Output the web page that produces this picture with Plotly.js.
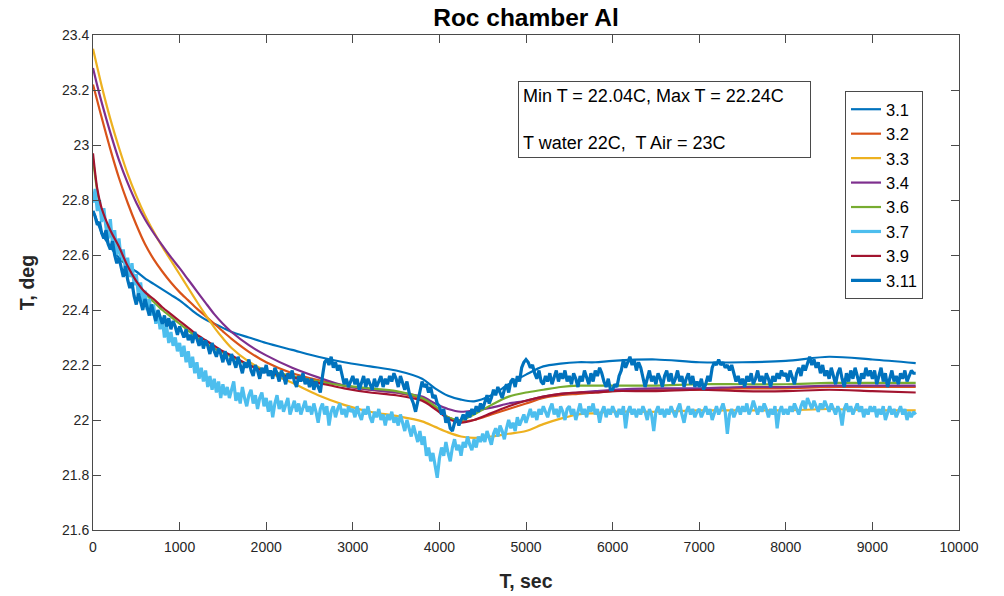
<!DOCTYPE html>
<html>
<head>
<meta charset="utf-8">
<script src="https://cdn.plot.ly/plotly-3.0.1.min.js"></script>
<style>
  html, body { margin: 0; padding: 0; background: #ffffff; }
  #chart { width: 1004px; height: 596px; }
</style>
</head>
<body>
<div id="chart"></div>
<script>
// Sensor labels (legend order)
const sensorNames = ['3.1', '3.2', '3.3', '3.4', '3.6', '3.7', '3.9', '3.11'];

// Smooth sensors: sample times, sec
const tSmooth = [0, 50, 100, 200, 300, 400, 500, 600, 700, 800, 900, 1000, 1100, 1200, 1300,
  1400, 1500, 1600, 1800, 2000, 2300, 2600, 2900, 3200, 3500, 3800, 3950, 4100, 4250, 4400,
  4600, 4800, 5000, 5200, 5400, 5600, 5800, 6000, 6500, 7000, 7500, 8000, 8500, 9000, 9500];

const s31 = [22.76, 22.72, 22.68, 22.63, 22.59, 22.56, 22.54, 22.515, 22.495, 22.475, 22.455,
  22.435, 22.41, 22.385, 22.365, 22.35, 22.335, 22.32, 22.30, 22.28,
  22.255, 22.23, 22.21, 22.195, 22.18, 22.15, 22.115, 22.088, 22.074, 22.068,
  22.09, 22.13, 22.165, 22.195, 22.205, 22.21, 22.21, 22.215, 22.22, 22.21, 22.21,
  22.215, 22.23, 22.22, 22.207];
const s32 = [23.22, 23.16, 23.10, 22.985, 22.88, 22.79, 22.71, 22.64, 22.585, 22.54, 22.50,
  22.465, 22.435, 22.405, 22.378, 22.35, 22.322, 22.295, 22.248, 22.21,
  22.17, 22.145, 22.125, 22.11, 22.10, 22.075, 22.045, 22.01, 21.995, 22.0,
  22.02, 22.04, 22.06, 22.08, 22.09, 22.095, 22.10, 22.105, 22.11, 22.11, 22.115,
  22.115, 22.12, 22.12, 22.12];
const s33 = [23.35, 23.282, 23.215, 23.095, 22.99, 22.895, 22.815, 22.745, 22.685, 22.63, 22.58,
  22.53, 22.48, 22.43, 22.382, 22.337, 22.297, 22.262, 22.212, 22.177,
  22.135, 22.09, 22.055, 22.03, 22.015, 21.995, 21.975, 21.955, 21.94, 21.935,
  21.94, 21.95, 21.96, 21.985, 22.005, 22.02, 22.025, 22.03, 22.03, 22.035, 22.035,
  22.035, 22.04, 22.035, 22.035];
const s34 = [23.28, 23.215, 23.155, 23.045, 22.945, 22.862, 22.79, 22.73, 22.68, 22.635, 22.592,
  22.552, 22.51, 22.468, 22.426, 22.385, 22.35, 22.32, 22.272, 22.235,
  22.19, 22.155, 22.125, 22.11, 22.10, 22.085, 22.06, 22.04, 22.03, 22.035,
  22.045, 22.06, 22.07, 22.085, 22.095, 22.10, 22.105, 22.11, 22.115, 22.115, 22.12,
  22.12, 22.125, 22.125, 22.125];
const s36 = [22.95, 22.83, 22.76, 22.675, 22.61, 22.55, 22.50, 22.46, 22.43, 22.40, 22.375,
  22.35, 22.325, 22.30, 22.28, 22.26, 22.245, 22.23, 22.20, 22.18,
  22.16, 22.14, 22.125, 22.115, 22.105, 22.08, 22.05, 22.01, 22.0, 22.02,
  22.055, 22.085, 22.10, 22.11, 22.12, 22.125, 22.125, 22.125, 22.125, 22.13, 22.13,
  22.13, 22.135, 22.135, 22.135];
const s39 = [22.97, 22.84, 22.77, 22.69, 22.63, 22.56, 22.505, 22.465, 22.44, 22.41, 22.385,
  22.36, 22.335, 22.31, 22.29, 22.27, 22.25, 22.235, 22.20, 22.175,
  22.155, 22.135, 22.115, 22.10, 22.09, 22.07, 22.04, 22.005, 21.99, 22.0,
  22.025, 22.05, 22.07, 22.085, 22.095, 22.10, 22.10, 22.105, 22.105, 22.11, 22.105,
  22.105, 22.11, 22.105, 22.10];

// Noisy sensors: one reading every 25 sec, from 0 to 9500 sec
const noisyStep = 25;
const s37 = [
  22.79, 22.84, 22.76, 22.80, 22.72, 22.77, 22.70, 22.66, 22.73, 22.64, 22.69, 22.60, 22.66, 22.58, 22.62, 22.54, 22.59, 22.52, 22.57, 22.49,
  22.53, 22.45, 22.50, 22.43, 22.47, 22.40, 22.44, 22.38, 22.42, 22.35, 22.39, 22.33, 22.37, 22.30, 22.34, 22.28, 22.32, 22.27, 22.30, 22.25,
  22.28, 22.23, 22.27, 22.21, 22.25, 22.19, 22.23, 22.17, 22.21, 22.15, 22.19, 22.14, 22.18, 22.12, 22.16, 22.11, 22.15, 22.10, 22.14, 22.08,
  22.13, 22.09, 22.12, 22.08, 22.11, 22.14, 22.07, 22.10, 22.06, 22.12, 22.08, 22.05, 22.09, 22.11, 22.06, 22.09, 22.04, 22.08, 22.10, 22.05,
  22.08, 22.03, 22.07, 22.01, 22.06, 22.09, 22.04, 22.07, 22.03, 22.06, 22.08, 22.02, 22.05, 22.07, 22.03, 22.06, 22.02, 22.05, 22.07, 22.03,
  22.05, 22.02, 22.06, 22.03, 21.99, 22.04, 22.06, 22.02, 22.05, 21.98, 22.03, 22.05, 22.01, 22.04, 22.06, 22.02, 22.04, 22.01, 22.05, 22.03,
  22.04, 22.01, 22.05, 22.02, 22.00, 22.04, 22.02, 22.05, 22.01, 21.99, 22.03, 22.01, 22.04, 22.00, 22.02, 21.98, 22.02, 22.00, 22.03, 21.99,
  22.01, 21.98, 22.02, 21.99, 21.96, 22.00, 21.97, 21.94, 21.98, 21.95, 21.92, 21.96, 21.91, 21.94, 21.87, 21.90, 21.85, 21.88, 21.83, 21.79,
  21.86, 21.90, 21.87, 21.92, 21.88, 21.85, 21.90, 21.93, 21.89, 21.91, 21.87, 21.92, 21.90, 21.94, 21.91, 21.89, 21.93, 21.90, 21.94, 21.92,
  21.95, 21.92, 21.96, 21.93, 21.91, 21.95, 21.97, 21.94, 21.98, 21.96, 21.93, 21.97, 22.00, 21.97, 21.99, 21.96, 22.01, 21.98, 22.00, 22.02,
  21.99, 22.02, 22.04, 22.01, 22.03, 22.00, 22.04, 22.02, 22.05, 22.03, 22.01, 22.04, 22.06, 22.02, 22.04, 22.01, 22.05, 22.03, 22.00, 22.04,
  22.05, 22.02, 22.04, 22.00, 22.03, 22.06, 22.02, 22.04, 22.01, 22.05, 22.03, 22.06, 22.02, 22.04, 21.99, 22.03, 22.05, 22.01, 22.04, 22.02,
  22.05, 22.03, 22.01, 22.04, 22.02, 22.05, 21.97, 22.03, 22.05, 22.02, 22.04, 22.01, 22.04, 22.02, 22.05, 22.03, 22.00, 22.04, 22.02, 21.96,
  22.03, 22.05, 22.02, 22.04, 22.01, 22.04, 22.02, 22.05, 22.03, 22.01, 22.04, 22.06, 22.02, 21.99, 22.03, 22.05, 22.02, 22.04, 22.01, 22.03,
  22.04, 22.01, 22.03, 22.05, 22.02, 22.04, 22.00, 22.03, 22.05, 22.02, 22.04, 22.06, 22.03, 21.95, 22.02, 22.04, 22.01, 22.03, 22.05, 22.02,
  22.05, 22.03, 22.06, 22.02, 22.04, 22.07, 22.04, 22.02, 22.05, 22.03, 22.06, 22.04, 22.01, 22.04, 22.02, 22.05, 21.97, 22.03, 22.05, 22.02,
  22.04, 22.02, 22.05, 22.03, 22.06, 22.04, 22.02, 22.05, 22.07, 22.04, 22.08, 22.06, 22.04, 22.07, 22.05, 22.03, 22.06, 22.04, 22.07, 22.05,
  22.03, 22.06, 22.04, 22.02, 22.05, 22.03, 21.98, 22.04, 22.06, 22.03, 22.05, 22.02, 22.04, 22.06, 22.03, 22.05, 22.01, 22.04, 22.02, 22.05,
  22.03, 22.05, 22.01, 22.04, 22.02, 22.05, 22.00, 22.03, 22.05, 22.02, 22.04, 22.01, 22.03, 22.05, 22.02, 22.04, 22.00, 22.03, 22.01, 22.03,
  22.02];
const s311 = [
  22.76, 22.74, 22.71, 22.72, 22.68, 22.66, 22.69, 22.64, 22.62, 22.65, 22.60, 22.57, 22.59, 22.55, 22.52, 22.56, 22.51, 22.48, 22.50, 22.45,
  22.42, 22.46, 22.43, 22.40, 22.44, 22.41, 22.38, 22.42, 22.39, 22.36, 22.40, 22.37, 22.35, 22.38, 22.34, 22.37, 22.33, 22.36, 22.34, 22.31,
  22.34, 22.32, 22.30, 22.33, 22.29, 22.31, 22.28, 22.32, 22.29, 22.27, 22.30, 22.26, 22.29, 22.27, 22.24, 22.28, 22.25, 22.23, 22.26, 22.24,
  22.21, 22.25, 22.22, 22.20, 22.24, 22.21, 22.19, 22.23, 22.20, 22.17, 22.21, 22.19, 22.22, 22.18, 22.16, 22.20, 22.18, 22.15, 22.19, 22.17,
  22.20, 22.16, 22.18, 22.15, 22.19, 22.17, 22.14, 22.18, 22.16, 22.13, 22.17, 22.15, 22.18, 22.14, 22.12, 22.16, 22.14, 22.17, 22.13, 22.15,
  22.12, 22.15, 22.11, 22.14, 22.12, 22.10, 22.16, 22.21, 22.22, 22.20, 22.23, 22.19, 22.21, 22.18, 22.20, 22.16, 22.13, 22.15, 22.12, 22.14,
  22.16, 22.13, 22.15, 22.11, 22.14, 22.16, 22.12, 22.15, 22.13, 22.11, 22.15, 22.12, 22.14, 22.16, 22.12, 22.15, 22.13, 22.16, 22.14, 22.17,
  22.15, 22.12, 22.16, 22.13, 22.11, 22.14, 22.10, 22.08, 22.06, 22.03, 22.07, 22.11, 22.14, 22.12, 22.13, 22.10, 22.12, 22.08, 22.09, 22.06,
  22.05, 22.02, 22.04, 21.99, 22.01, 21.97, 21.96, 21.99, 22.01, 21.98, 22.00, 22.02, 22.00, 22.03, 22.01, 22.04, 22.02, 22.05, 22.03, 22.06,
  22.04, 22.07, 22.09, 22.06, 22.08, 22.11, 22.09, 22.12, 22.10, 22.08, 22.11, 22.13, 22.10, 22.14, 22.15, 22.12, 22.16, 22.14, 22.19, 22.21,
  22.22, 22.21, 22.19, 22.20, 22.17, 22.15, 22.18, 22.14, 22.13, 22.16, 22.14, 22.17, 22.13, 22.16, 22.18, 22.14, 22.17, 22.15, 22.18, 22.14,
  22.16, 22.13, 22.17, 22.15, 22.12, 22.16, 22.14, 22.18, 22.15, 22.13, 22.17, 22.14, 22.18, 22.16, 22.19, 22.17, 22.14, 22.12, 22.15, 22.11,
  22.11, 22.13, 22.12, 22.16, 22.18, 22.22, 22.19, 22.21, 22.23, 22.20, 22.22, 22.18, 22.21, 22.19, 22.15, 22.12, 22.15, 22.18, 22.14, 22.16,
  22.13, 22.17, 22.15, 22.12, 22.16, 22.18, 22.14, 22.17, 22.13, 22.15, 22.18, 22.14, 22.16, 22.12, 22.15, 22.17, 22.13, 22.16, 22.12, 22.14,
  22.12, 22.15, 22.11, 22.13, 22.16, 22.14, 22.19, 22.21, 22.20, 22.22, 22.20, 22.21, 22.19, 22.20, 22.18, 22.20, 22.17, 22.14, 22.16, 22.13,
  22.15, 22.12, 22.16, 22.14, 22.17, 22.13, 22.15, 22.18, 22.14, 22.16, 22.13, 22.17, 22.15, 22.12, 22.16, 22.14, 22.17, 22.15, 22.18, 22.16,
  22.17, 22.14, 22.18, 22.15, 22.13, 22.17, 22.19, 22.16, 22.20, 22.18, 22.21, 22.23, 22.20, 22.22, 22.19, 22.21, 22.17, 22.20, 22.16, 22.18,
  22.15, 22.19, 22.16, 22.13, 22.17, 22.19, 22.15, 22.12, 22.17, 22.14, 22.18, 22.15, 22.19, 22.16, 22.13, 22.17, 22.15, 22.19, 22.16, 22.18,
  22.15, 22.18, 22.13, 22.16, 22.19, 22.14, 22.17, 22.12, 22.15, 22.18, 22.14, 22.16, 22.13, 22.17, 22.15, 22.18, 22.14, 22.16, 22.18, 22.17,
  22.17];

// Default MATLAB line colour order
const colors = ['#0072BD', '#D95319', '#EDB120', '#7E2F8E', '#77AC30', '#4DBEEE', '#A2142F', '#0072BD'];

const tNoisy = s37.map((_, i) => i * noisyStep);

function smoothTrace(name, y, color) {
  return {
    type: 'scatter', mode: 'lines', name: name,
    x: tSmooth, y: y,
    line: { color: color, width: 2.2, shape: 'spline', smoothing: 0.8 }
  };
}
function noisyTrace(name, y, color) {
  return {
    type: 'scatter', mode: 'lines', name: name,
    x: tNoisy, y: y,
    line: { color: color, width: 3.2 }
  };
}

const traces = [
  smoothTrace(sensorNames[0], s31, colors[0]),
  smoothTrace(sensorNames[1], s32, colors[1]),
  smoothTrace(sensorNames[2], s33, colors[2]),
  smoothTrace(sensorNames[3], s34, colors[3]),
  smoothTrace(sensorNames[4], s36, colors[4]),
  noisyTrace(sensorNames[5], s37, colors[5]),
  smoothTrace(sensorNames[6], s39, colors[6]),
  noisyTrace(sensorNames[7], s311, colors[7])
];

const FONT = 'Liberation Sans, Arial, Helvetica, sans-serif';
const AXIS_COLOR = '#4a4a4a';

const axisCommon = {
  showgrid: false, zeroline: false,
  showline: true, linecolor: AXIS_COLOR, linewidth: 1,
  mirror: 'ticks', ticks: 'inside', ticklen: 8, tickwidth: 1, tickcolor: AXIS_COLOR,
  tickfont: { family: FONT, size: 14, color: '#262626' }
};

const layout = {
  width: 1004, height: 596,
  margin: { l: 93, r: 45, t: 35, b: 66 },
  paper_bgcolor: '#ffffff', plot_bgcolor: '#ffffff',
  font: { family: FONT, color: '#262626' },
  title: {
    text: 'Roc chamber Al',
    font: { family: FONT, size: 24.5, weight: 700, color: '#000000' },
    x: 0.5, xref: 'paper', xanchor: 'center',
    y: 1 - 17 / 596, yref: 'container', yanchor: 'middle'
  },
  xaxis: Object.assign({}, axisCommon, {
    range: [0, 10000], tick0: 0, dtick: 1000, tickformat: 'd', ticklabelstandoff: 4,
    title: { text: 'T, sec', font: { family: FONT, size: 19.5, weight: 700, color: '#262626' }, standoff: 20 }
  }),
  yaxis: Object.assign({}, axisCommon, {
    range: [21.6, 23.4], tick0: 21.6, dtick: 0.2,
    title: { text: 'T, deg', font: { family: FONT, size: 19.5, weight: 700, color: '#262626' }, standoff: 22 }
  }),
  showlegend: true,
  legend: {
    x: (845 - 93) / 866, y: 1 - (91 - 35) / 495, xanchor: 'left', yanchor: 'top',
    xref: 'paper', yref: 'paper',
    bgcolor: '#ffffff', bordercolor: AXIS_COLOR, borderwidth: 1,
    font: { family: FONT, size: 16.5, color: '#000000' },
    itemwidth: 30, traceorder: 'normal'
  },
  annotations: [{
    xref: 'paper', yref: 'paper',
    x: (518 - 93) / 866, y: 1 - (81 - 35) / 495, xanchor: 'left', yanchor: 'top',
    text: 'Min T = 22.04C, Max T = 22.24C<br>\u00A0<br>T water 22C,\u00A0 T Air = 23C',
    showarrow: false, align: 'left', width: 283,
    font: { family: FONT, size: 18, color: '#000000' },
    bgcolor: '#ffffff', bordercolor: AXIS_COLOR, borderwidth: 1, borderpad: 4
  }]
};

Plotly.newPlot('chart', traces, layout, { displayModeBar: false, staticPlot: true });
</script>
</body>
</html>
